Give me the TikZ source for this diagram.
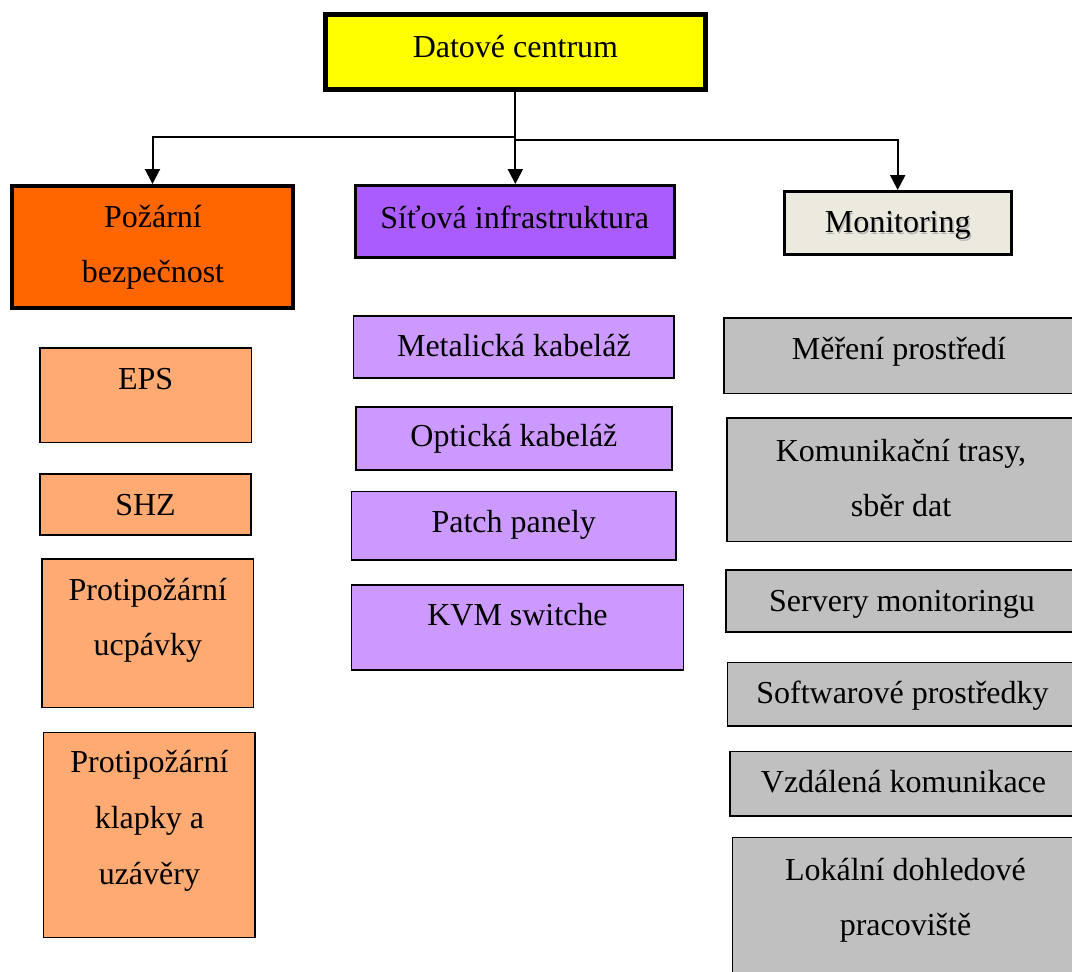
\documentclass[tikz,border=0pt]{standalone}
\usepackage{fontspec}
\setmainfont{Liberation Serif}
\usetikzlibrary{arrows.meta,fit}

\definecolor{dcyellow}{RGB}{255,255,0}
\definecolor{fireorange}{RGB}{255,102,0}
\definecolor{firelight}{RGB}{255,170,115}
\definecolor{netpurple}{RGB}{170,92,255}
\definecolor{netlight}{RGB}{204,153,255}
\definecolor{monbeige}{RGB}{236,234,222}
\definecolor{monlight}{RGB}{192,192,192}

\begin{document}
\begin{tikzpicture}[x=1pt,y=-1pt,
  box/.style={draw=black, rectangle, inner sep=0pt},
  mainbox/.style={box},
  subbox/.style={box, line width=1.6pt},
  txt/.style={anchor=base, inner sep=0pt, font=\fontsize{32}{38}\selectfont},
  shadowtxt/.style={txt, text=black!28},
  conn/.style={line width=2pt, -{Triangle[length=15pt,width=15pt]}},
]
\useasboundingbox (0,0) rectangle (1072,972);

% top level
\node[mainbox, line width=5pt, fill=dcyellow, fit={(325.2,14.8)(705.5,89.5)}] (dc) {};
\node[txt] (dcT) at (515.4,57) {Datové centrum};

% second level
\node[mainbox, line width=4pt, fill=fireorange, fit={(12,186)(293,308)}] (fire) {};
\node[txt] (fireA) at (153,227) {Požární};
\node[txt] (fireB) at (153,282) {bezpečnost};

\node[mainbox, line width=3pt, fill=netpurple, fit={(355,185.5)(674.5,257.8)}] (net) {};
\node[txt] (netT) at (514.7,228.5) {Síťová infrastruktura};

\node[mainbox, line width=3pt, fill=monbeige, fit={(784.2,191.5)(1011.2,254.5)}] (mon) {};
\node[shadowtxt] (monS) at (899.1,234.1) {Monitoring};
\node[txt] (monT) at (897.7,232.8) {Monitoring};

% connectors
\draw[conn] (dc.south) -- ++(0,45) -| (fire.north);
\draw[conn] (dc.south) -- (dc.south |- net.north);
\draw[conn] (dc.south) -- ++(0,48) -| (mon.north);

% fire safety items
\node[subbox, fill=firelight, fit={(39.8,348.1)(251.5,442.5)}] (eps) {};
\node[txt] (epsT) at (145.6,389.5) {EPS};
\node[subbox, fill=firelight, fit={(39.8,474.1)(251.2,535.2)}] (shz) {};
\node[txt] (shzT) at (145.5,515.5) {SHZ};
\node[subbox, fill=firelight, fit={(41.8,559.1)(253.5,707.5)}] (ucp) {};
\node[txt] (ucpA) at (147.8,600) {Protipožární};
\node[txt] (ucpB) at (147.8,655.5) {ucpávky};
\node[subbox, fill=firelight, fit={(43.5,732.5)(255.2,937.5)}] (klap) {};
\node[txt] (klapA) at (149.4,772.5) {Protipožární};
\node[txt] (klapB) at (149.4,828.5) {klapky a};
\node[txt] (klapC) at (149.4,884) {uzávěry};

% network items
\node[subbox, fill=netlight, fit={(353.5,315.8)(674.2,377.9)}] (met) {};
\node[txt] (metT) at (513.9,356.5) {Metalická kabeláž};
\node[subbox, fill=netlight, fit={(355.8,406.8)(671.9,469.9)}] (opt) {};
\node[txt] (optT) at (513.9,446.5) {Optická kabeláž};
\node[subbox, fill=netlight, fit={(351.5,491.5)(675.9,559.9)}] (patch) {};
\node[txt] (patchT) at (513.7,532.5) {Patch panely};
\node[subbox, fill=netlight, fit={(351.5,584.8)(683.5,669.9)}] (kvm) {};
\node[txt] (kvmT) at (517.5,625.5) {KVM switche};

% monitoring items (running past the right edge)
\node[subbox, fill=monlight, fit={(724.1,318.1)(1085,393.5)}] (mer) {};
\node[txt] (merT) at (899,359.5) {Měření prostředí};
\node[subbox, fill=monlight, fit={(726.8,418.1)(1085,541.5)}] (kom) {};
\node[txt] (komA) at (901,461) {Komunikační trasy,};
\node[txt] (komB) at (901,516.5) {sběr dat};
\node[subbox, fill=monlight, fit={(725.8,570.1)(1085,631.9)}] (srv) {};
\node[txt] (srvT) at (902,611) {Servery monitoringu};
\node[subbox, fill=monlight, fit={(727.5,662.5)(1085,725.9)}] (sw) {};
\node[txt] (swT) at (902.5,703) {Softwarové prostředky};
\node[subbox, fill=monlight, fit={(730.1,751.5)(1085,815.9)}] (vzd) {};
\node[txt] (vzdT) at (903.5,792) {Vzdálená komunikace};
\node[subbox, fill=monlight, fit={(732.5,837.5)(1085,995)}] (lok) {};
\node[txt] (lokA) at (905.5,880) {Lokální dohledové};
\node[txt] (lokB) at (905.5,935.5) {pracoviště};
\end{tikzpicture}
\end{document}
